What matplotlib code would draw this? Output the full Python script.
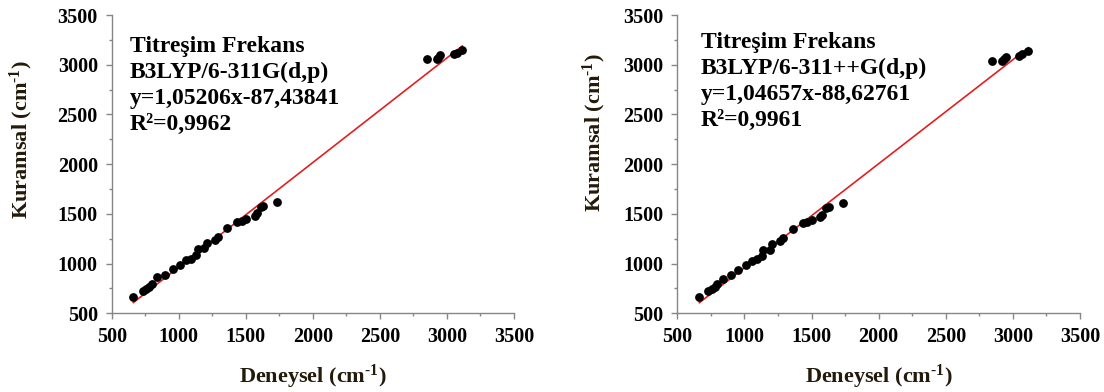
import matplotlib
matplotlib.use("Agg")
import matplotlib.pyplot as plt
from matplotlib.ticker import MultipleLocator
import numpy as np

# deneysel / kuramsal frekanslar (cm-1)
x_311g = [661, 731, 756, 780, 803, 840, 897, 955, 1009, 1054, 1091, 1129, 1146,
          1191, 1208, 1270, 1295, 1362, 1432, 1469, 1499, 1569, 1581, 1613, 1631,
          1735, 2853, 2928, 2935, 2948, 3053, 3077, 3114]
y_311g = [661, 724, 748, 768, 792, 862, 885, 942, 983, 1036, 1049, 1086, 1144,
          1154, 1210, 1237, 1270, 1355, 1421, 1431, 1445, 1479, 1506, 1566, 1579,
          1616, 3054, 3054, 3070, 3098, 3108, 3115, 3148]

x_311pp = [664, 731, 756, 781, 798, 838, 898, 954, 1010, 1054, 1092, 1129, 1141,
           1191, 1203, 1265, 1290, 1364, 1434, 1469, 1501, 1563, 1580, 1608, 1630,
           1732, 2847, 2917, 2930, 2947, 3046, 3066, 3115]
y_311pp = [661, 724, 741, 768, 792, 848, 882, 935, 983, 1029, 1043, 1076, 1137,
           1137, 1197, 1230, 1254, 1345, 1411, 1421, 1438, 1471, 1489, 1556, 1566,
           1606, 3037, 3040, 3060, 3081, 3091, 3108, 3138]

fit_311g = (1.05206, -87.43841)
fit_311pp = (1.04657, -88.62761)

text_311g = ["Titreşim Frekans", "B3LYP/6-311G(d,p)", "y=1,05206x-87,43841", "R²=0,9962"]
text_311pp = ["Titreşim Frekans", "B3LYP/6-311++G(d,p)", "y=1,04657x-88,62761", "R²=0,9961"]

plt.rcParams['font.family'] = ['Liberation Serif', 'DejaVu Serif']
plt.rcParams['font.weight'] = 'bold'
plt.rcParams['mathtext.fontset'] = 'custom'
plt.rcParams['mathtext.rm'] = 'Liberation Serif:bold'
plt.rcParams['mathtext.it'] = 'Liberation Serif:bold'
plt.rcParams['mathtext.bf'] = 'Liberation Serif:bold'

fig = plt.figure(figsize=(11.04, 3.92), dpi=100)
ax1 = fig.add_axes([0.1012, 0.2008, 0.3644, 0.7609])
ax2 = fig.add_axes([0.6135, 0.2008, 0.3648, 0.7609])

axis_gray = '#868686'
label_col = '#231a0a'


def draw(ax, xs, ys, fit, lines, text_x, text_y0, ylab_xy):
    xs = np.array(xs)
    ys = np.array(ys)
    ax.scatter(xs, ys, s=28, color='black', zorder=3)
    xl = np.array([xs.min(), xs.max()])
    ax.plot(xl, fit[0] * xl + fit[1], color='#e02020', lw=1.2, zorder=2)

    ax.set_xlim(500, 3500)
    ax.set_ylim(500, 3500)
    ax.xaxis.set_major_locator(MultipleLocator(500))
    ax.yaxis.set_major_locator(MultipleLocator(500))
    ax.xaxis.set_minor_locator(MultipleLocator(250))
    ax.yaxis.set_minor_locator(MultipleLocator(250))
    for s in ['top', 'right']:
        ax.spines[s].set_visible(False)
    for s in ['left', 'bottom']:
        ax.spines[s].set_color(axis_gray)
        ax.spines[s].set_linewidth(1.0)
    ax.tick_params(which='major', length=4, width=1.0, color=axis_gray,
                   labelsize=14.5, pad=6, labelcolor='black')
    ax.tick_params(which='minor', length=2.5, width=1.0, color=axis_gray)
    for lab in ax.get_xticklabels() + ax.get_yticklabels():
        lab.set_fontweight('bold')

    ax.set_xlabel(r'Deneysel (cm$^{\text{-1}}$)', fontsize=16, fontweight='bold', color=label_col)
    ax.set_ylabel(r'Kuramsal (cm$^{\text{-1}}$)', fontsize=16, fontweight='bold', color=label_col)
    ax.xaxis.set_label_coords(0.5, -0.2125)
    ax.xaxis.label.set_va('center')
    ax.yaxis.set_label_coords(*ylab_xy)
    ax.yaxis.label.set_va('center')

    for i, t in enumerate(lines):
        ax.text(text_x, text_y0 - i * 0.087, t, transform=ax.transAxes,
                fontsize=17, fontweight='bold', va='baseline', ha='left')


draw(ax1, x_311g, y_311g, fit_311g, text_311g, 0.045, 0.875, (-0.2255, 0.581))
draw(ax2, x_311pp, y_311pp, fit_311pp, text_311pp, 0.059, 0.888, (-0.207, 0.604))

fig.savefig('out.png', dpi=100)
